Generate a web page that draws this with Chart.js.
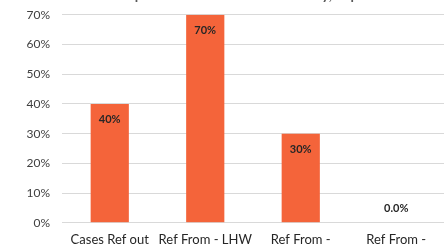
<!DOCTYPE html>
<html>
<head>
<meta charset="utf-8">
<script src="https://cdn.jsdelivr.net/npm/chart.js@4"></script>
<style>
  html, body { margin: 0; padding: 0; overflow: hidden; background: #fff; }
  #wrap { position: absolute; left: 0; top: -15px; width: 444px; height: 279px; }
</style>
</head>
<body>
<div id="wrap"><canvas id="chart"></canvas></div>
<script>
// Chart data
const categories = ['Cases Ref out', 'Ref From - LHW', ['Ref From -', 'Community'], ['Ref From -', 'Other']];
const shares = [40, 70, 30, 0];
const valueLabels = ['40%', '70%', '30%', '0.0%'];
const yTicks = [0, 10, 20, 30, 40, 50, 60, 70];
const chartTitle = 'Sub Graph of Referred Patients Weekly, Sep';

// Draw the value labels inside the top of each bar (above it when zero)
const barLabels = {
  id: 'barLabels',
  afterDatasetsDraw(chart) {
    const ctx = chart.ctx;
    ctx.save();
    ctx.font = 'bold 11px Lato';
    ctx.fillStyle = '#262626';
    ctx.textAlign = 'center';
    ctx.textBaseline = 'middle';
    chart.getDatasetMeta(0).data.forEach((bar, i) => {
      const y = shares[i] > 0 ? bar.y + 16 : bar.y - 14;
      ctx.fillText(valueLabels[i], bar.x, y);
    });
    ctx.restore();
  }
};

new Chart(document.getElementById('chart'), {
  type: 'bar',
  data: {
    labels: categories,
    datasets: [{
      data: shares,
      backgroundColor: '#F4643A',
      barPercentage: 0.4,
      categoryPercentage: 1
    }]
  },
  options: {
    responsive: true,
    maintainAspectRatio: false,
    animation: false,
    layout: { padding: { left: 0, right: 0, top: 0, bottom: 0 } },
    plugins: {
      legend: { display: false },
      tooltip: { enabled: false },
      title: {
        display: true,
        text: chartTitle,
        color: '#595959',
        font: { family: 'Lato', size: 14 },
        padding: { top: 2, bottom: 11 }
      }
    },
    scales: {
      x: {
        grid: { display: false },
        border: { display: true, color: '#d9d9d9' },
        ticks: {
          color: '#262626',
          font: { family: 'Lato', size: 13 },
          maxRotation: 0,
          autoSkip: false,
          padding: 1
        }
      },
      y: {
        min: 0,
        max: 70,
        afterBuildTicks(axis) { axis.ticks = yTicks.map(v => ({ value: v })); },
        grid: { color: '#d9d9d9', drawTicks: false },
        border: { display: false },
        ticks: {
          color: '#404040',
          font: { family: 'Lato', size: 12 },
          padding: 12,
          callback: v => v + '%'
        },
        afterFit(axis) { axis.width = 62; }
      }
    }
  },
  plugins: [barLabels]
});
</script>
</body>
</html>
